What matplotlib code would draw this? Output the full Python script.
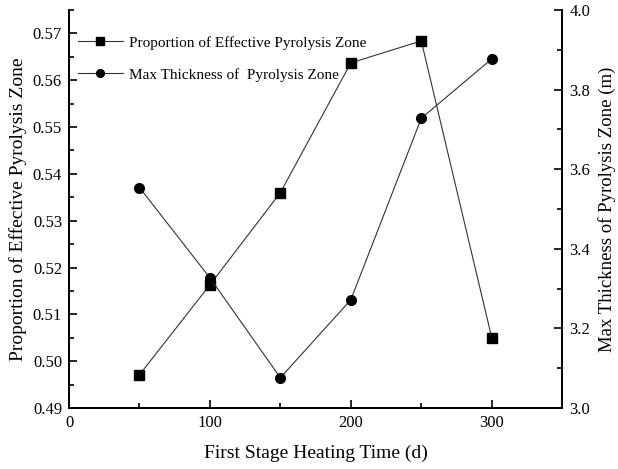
import matplotlib.pyplot as plt
from matplotlib.ticker import MultipleLocator

plt.rcParams['font.family'] = ['Liberation Serif', 'DejaVu Serif']

# heating time in days
time_d = [50, 100, 150, 200, 250, 300]
# share of the effective pyrolysis zone
proportion = [0.4971, 0.5163, 0.5360, 0.5637, 0.5684, 0.5050]
# maximum thickness of the pyrolysis zone (m)
thickness = [3.554, 3.327, 3.076, 3.272, 3.728, 3.877]

fig = plt.figure(figsize=(6.18, 4.69), dpi=100)
ax = fig.add_axes([0.1117, 0.1300, 0.7980, 0.8487])
ax2 = ax.twinx()

l1, = ax.plot(time_d, proportion, color='#333333', lw=0.8, marker='s', ms=6.5,
              mfc='black', mec='black', label='Proportion of Effective Pyrolysis Zone')
l2, = ax2.plot(time_d, thickness, color='#333333', lw=0.8, marker='o', ms=7,
               mfc='black', mec='black', label='Max Thickness of  Pyrolysis Zone')

ax.set_xlim(0, 350)
ax.set_ylim(0.49, 0.575)
ax2.set_ylim(3.0, 4.0)

ax.xaxis.set_major_locator(MultipleLocator(100))
ax.xaxis.set_minor_locator(MultipleLocator(50))
ax.yaxis.set_major_locator(MultipleLocator(0.01))
ax.yaxis.set_minor_locator(MultipleLocator(0.005))
ax2.yaxis.set_major_locator(MultipleLocator(0.2))
ax2.yaxis.set_minor_locator(MultipleLocator(0.1))
ax.yaxis.set_major_formatter(plt.FormatStrFormatter('%.2f'))
ax2.yaxis.set_major_formatter(plt.FormatStrFormatter('%.1f'))

for a in (ax, ax2):
    a.spines['top'].set_visible(False)
    for s in a.spines.values():
        s.set_linewidth(1.3)
ax.tick_params(axis='both', which='both', direction='in', labelsize=12, width=1.2)
ax.tick_params(which='major', length=6, pad=5)
ax.tick_params(which='minor', length=3.5)
ax2.tick_params(axis='y', which='both', direction='in', labelsize=12, width=1.2)
ax2.tick_params(which='major', length=6, pad=5)
ax2.tick_params(which='minor', length=3.5)

ax.set_xlabel('First Stage Heating Time (d)', fontsize=14, labelpad=10)
ax.set_ylabel('Proportion of Effective Pyrolysis Zone', fontsize=14, labelpad=4)
ax2.set_ylabel('Max Thickness of Pyrolysis Zone (m)', fontsize=13.5, labelpad=6)

ax.legend(handles=[l1, l2], loc='upper left', bbox_to_anchor=(0.0, 0.958),
          frameon=False, fontsize=11, handlelength=2.9, handletextpad=0.45,
          labelspacing=1.2, borderaxespad=0.2, markerscale=0.8)

fig.savefig('out.png', dpi=100)
